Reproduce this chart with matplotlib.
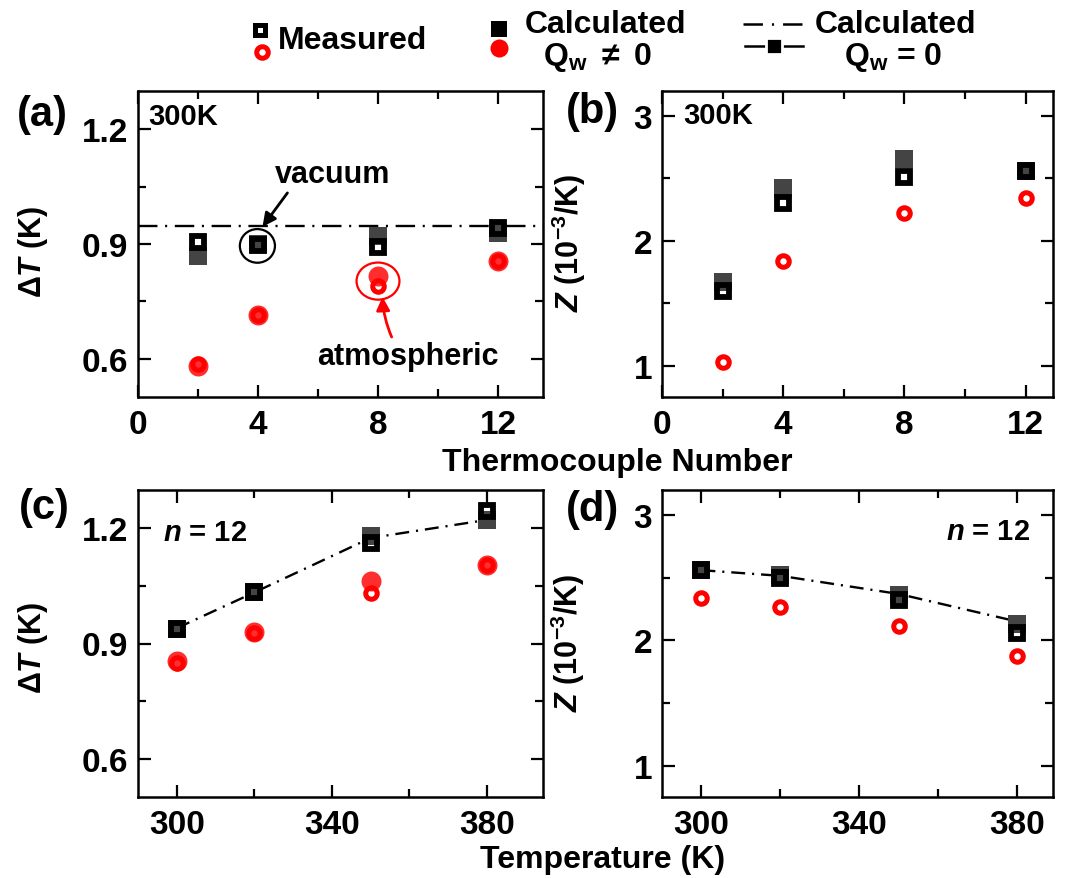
import matplotlib
matplotlib.use('Agg')
import matplotlib.pyplot as plt
from matplotlib.patches import Ellipse

plt.rcParams.update({
    'font.family': 'Liberation Sans',
    'font.weight': 'bold',
    'axes.labelweight': 'bold',
    'font.size': 22,
    'mathtext.fontset': 'custom',
    'mathtext.rm': 'Liberation Sans:bold',
    'mathtext.it': 'Liberation Sans:bold:italic',
    'mathtext.bf': 'Liberation Sans:bold',
    'lines.scale_dashes': False,
    'axes.linewidth': 1.8,
})

# ---------------- data ----------------
tc_number = [2, 4, 8, 12]
a_meas_sq = [0.905, 0.898, 0.892, 0.942]
a_calc_sq = [0.869, 0.900, 0.922, 0.928]
a_meas_circ = [0.585, 0.714, 0.791, 0.855]
a_calc_circ = [0.582, 0.714, 0.817, 0.855]
a_qw0 = 0.948

b_meas_sq = [1.595, 2.307, 2.515, 2.56]
b_calc_sq = [1.672, 2.42, 2.654, 2.56]
b_meas_circ = [1.032, 1.84, 2.227, 2.34]

temps = [300, 320, 350, 380]
c_meas_sq = [0.939, 1.033, 1.162, 1.244]
c_calc_sq = [0.939, 1.033, 1.179, 1.222]
c_qw0 = [0.940, 1.033, 1.175, 1.222]
c_meas_circ = [0.850, 0.928, 1.032, 1.104]
c_calc_circ = [0.854, 0.929, 1.062, 1.105]

d_meas_sq = [2.558, 2.497, 2.324, 2.059]
d_calc_sq = [2.558, 2.525, 2.365, 2.133]
d_qw0 = [2.56, 2.515, 2.37, 2.15]
d_meas_circ = [2.337, 2.266, 2.112, 1.873]

# ---------------- figure ----------------
W, H = 1072, 879
fig = plt.figure(figsize=(W / 100, H / 100), dpi=100)


def px_axes(x0, y0, x1, y1):
    return fig.add_axes([x0 / W, 1 - y1 / H, (x1 - x0) / W, (y1 - y0) / H])


DARK = '#444444'
RED = '#ff0000'
DASHDOT_A = (0, (14, 5.5, 1.5, 5.5))
DASHDOT_C = (0, (10, 5, 1.5, 5))

sq_open = dict(marker='s', ms=8.3, mew=4.2, mfc='none', mec='k', ls='none', zorder=6)
sq_fill = dict(marker='s', ms=13.5, mew=0, color=DARK, ls='none', zorder=3)
ci_open = dict(marker='o', ms=8.3, mew=3.6, mfc='none', mec=RED, ls='none', zorder=5)
ci_fill = dict(marker='o', ms=14.4, mew=0, color=RED, alpha=0.82, ls='none', zorder=4)


def style(ax, xmaj, xmin, ymaj, ymin, xlim, ylim, ylabels):
    ax.set_xlim(*xlim)
    ax.set_ylim(*ylim)
    ax.set_xticks(xmaj)
    ax.set_xticks(xmin, minor=True)
    ax.set_yticks(ymaj)
    ax.set_yticklabels(ylabels)
    ax.set_yticks(ymin, minor=True)
    ax.tick_params(which='both', direction='in', top=True, right=True,
                   width=1.6, labelsize=24)
    ax.tick_params(which='major', length=9)
    ax.tick_params(which='minor', length=5.5)
    ax.tick_params(axis='x', pad=9)
    ax.tick_params(axis='y', pad=7)


# (a)
ax_a = px_axes(138, 92, 543, 398)
ax_a.axhline(a_qw0, color='k', lw=1.7, ls=DASHDOT_A, zorder=2)
ax_a.plot(tc_number, a_calc_sq, **sq_fill)
ax_a.plot(tc_number, a_meas_sq, **sq_open)
ax_a.plot(tc_number, a_calc_circ, **ci_fill)
ax_a.plot(tc_number, a_meas_circ, **ci_open)
style(ax_a, [0, 4, 8, 12], [2, 6, 10], [0.6, 0.9, 1.2], [0.75, 1.05],
      (0, 13.5), (0.5, 1.3), ['0.6', '0.9', '1.2'])
ax_a.set_ylabel(r'$\mathit{\Delta T}$ (K)', fontsize=22)
ax_a.yaxis.set_label_coords(-0.217, 0.477)
ax_a.text(0.025, 0.918, '300K', transform=ax_a.transAxes, fontsize=21,
          ha='left', va='center')
ax_a.add_patch(Ellipse((3.98, 0.895), 1.17, 0.088, fc='none', ec='k', lw=1.6, zorder=7))
ax_a.add_patch(Ellipse((8.0, 0.803), 1.43, 0.097, fc='none', ec=RED, lw=1.6, zorder=7))
ax_a.annotate('vacuum', xy=(4.15, 0.945), xytext=(6.5, 1.083), ha='center', va='center',
              fontsize=22,
              arrowprops=dict(arrowstyle='-|>', color='k', lw=2, mutation_scale=20,
                              shrinkA=1, shrinkB=0, relpos=(0.13, 0.0)))
ax_a.annotate('atmospheric', xy=(8.15, 0.762), xytext=(9.0, 0.607), ha='center', va='center',
              fontsize=22,
              arrowprops=dict(arrowstyle='-|>', color=RED, lw=2, mutation_scale=20,
                              shrinkA=1, shrinkB=0, relpos=(0.42, 1.0),
                              connectionstyle='arc3,rad=-0.1'))

# (b)
ax_b = px_axes(662, 92, 1053, 398)
ax_b.plot(tc_number, b_calc_sq, **sq_fill)
ax_b.plot(tc_number, b_meas_sq, **sq_open)
ax_b.plot(tc_number, b_meas_circ, **ci_open)
style(ax_b, [0, 4, 8, 12], [2, 6, 10], [1, 2, 3], [1.5, 2.5],
      (0, 12.9), (0.75, 3.2), ['1', '2', '3'])
ax_b.set_ylabel(r'$\mathit{Z}$ (10$^{\mathbf{-3}}$/K)', fontsize=22)
ax_b.yaxis.set_label_coords(-0.19, 0.507)
ax_b.text(0.054, 0.92, '300K', transform=ax_b.transAxes, fontsize=21,
          ha='left', va='center')

# (c)
ax_c = px_axes(138, 491, 543, 798)
ax_c.plot(temps, c_qw0, color='k', lw=1.7, ls=DASHDOT_C, zorder=2)
ax_c.plot(temps, c_calc_sq, **sq_fill)
ax_c.plot(temps, c_meas_sq, **sq_open)
ax_c.plot(temps, c_calc_circ, **ci_fill)
ax_c.plot(temps, c_meas_circ, **ci_open)
style(ax_c, [300, 340, 380], [320, 360], [0.6, 0.9, 1.2], [0.75, 1.05],
      (290, 394.5), (0.5, 1.3), ['0.6', '0.9', '1.2'])
ax_c.set_ylabel(r'$\mathit{\Delta T}$ (K)', fontsize=22)
ax_c.yaxis.set_label_coords(-0.217, 0.489)
ax_c.text(0.062, 0.863, r'$\mathit{n}$ = 12', transform=ax_c.transAxes, fontsize=21,
          ha='left', va='center')

# (d)
ax_d = px_axes(662, 491, 1053, 798)
ax_d.plot(temps, d_qw0, color='k', lw=1.7, ls=DASHDOT_C, zorder=2)
ax_d.plot(temps, d_calc_sq, **sq_fill)
ax_d.plot(temps, d_meas_sq, **sq_open)
ax_d.plot(temps, d_meas_circ, **ci_open)
style(ax_d, [300, 340, 380], [320, 360], [1, 2, 3], [1.5, 2.5],
      (290, 389), (0.75, 3.2), ['1', '2', '3'])
ax_d.set_ylabel(r'$\mathit{Z}$ (10$^{\mathbf{-3}}$/K)', fontsize=22)
ax_d.yaxis.set_label_coords(-0.192, 0.505)
ax_d.text(0.941, 0.866, r'$\mathit{n}$ = 12', transform=ax_d.transAxes, fontsize=21,
          ha='right', va='center')

# panel letters and shared axis titles (pixel positions)
def ftext(x, y, s, **kw):
    fig.text(x / W, 1 - y / H, s, **kw)

ftext(42, 115, '(a)', fontsize=30, ha='center', va='center')
ftext(592, 112, '(b)', fontsize=30, ha='center', va='center')
ftext(44, 508, '(c)', fontsize=30, ha='center', va='center')
ftext(592, 510, '(d)', fontsize=30, ha='center', va='center')
ftext(617, 463, 'Thermocouple Number', fontsize=23, ha='center', va='center')
ftext(603, 860, 'Temperature (K)', fontsize=23, ha='center', va='center')

# ---------------- legend strip ----------------
lg = fig.add_axes([0, 1 - 80 / H, 1, 80 / H])
lg.set_xlim(0, W)
lg.set_ylim(80, 0)
lg.axis('off')
lg.plot([260], [31], marker='s', ms=7.2, mew=3.6, mfc='none', mec='k', ls='none')
lg.plot([262], [53], marker='o', ms=8.3, mew=3.6, mfc='none', mec=RED, ls='none')
lg.text(278, 41, 'Measured', fontsize=23, ha='left', va='center')

lg.plot([499], [30], marker='s', ms=11, mew=0, color='k', ls='none')
lg.plot([499], [49], marker='o', ms=13, mew=0, color=RED, ls='none')
lg.text(525, 25, 'Calculated', fontsize=23, ha='left', va='center')
lg.text(597, 57, r'Q$_{\mathbf{w}}$ $\neq$ 0', fontsize=23, ha='center', va='center')

lg.plot([743, 802], [25, 25], color='k', lw=1.8, ls=(0, (14, 6.5, 1.5, 6.5)))
lg.plot([745, 803], [47, 47], color='k', lw=1.8)
lg.plot([774], [47], marker='s', ms=12, mew=2, mfc='k', mec='white', ls='none')
lg.text(815, 25, 'Calculated', fontsize=23, ha='left', va='center')
lg.text(893, 57, r'Q$_{\mathbf{w}}$ = 0', fontsize=23, ha='center', va='center')

fig.savefig('out.png', dpi=100)
